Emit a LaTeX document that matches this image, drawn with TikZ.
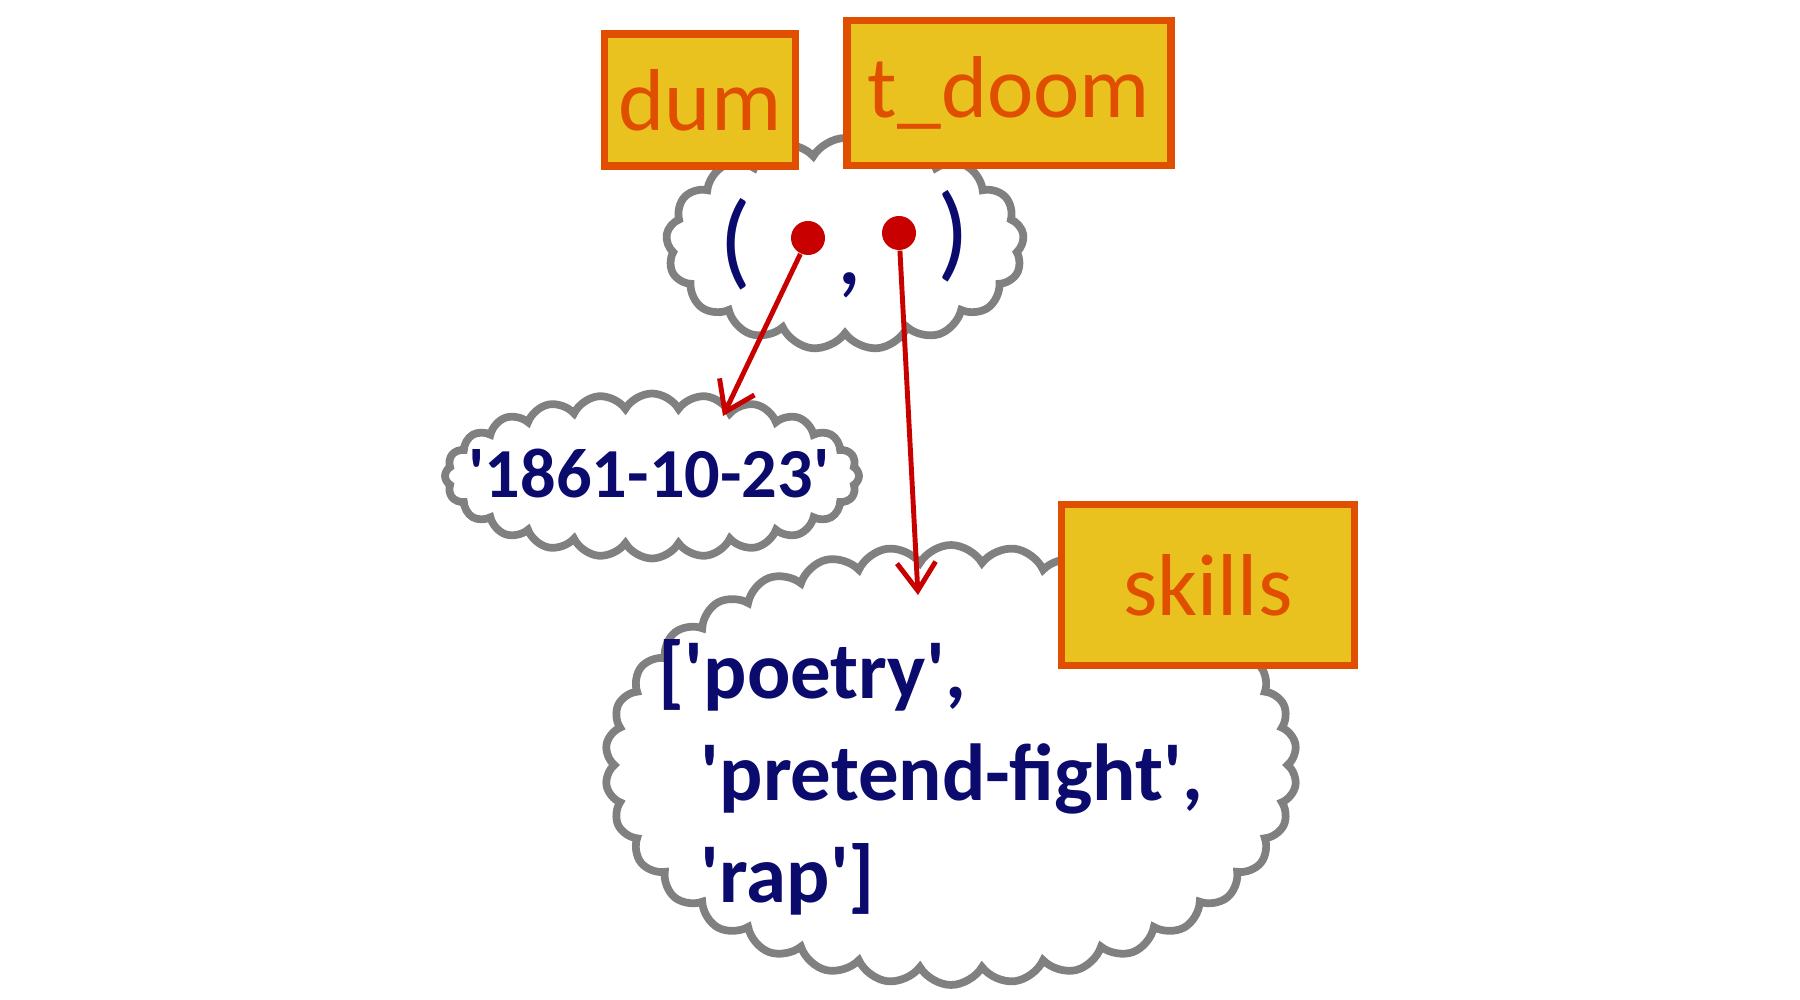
\documentclass[tikz,border=0pt]{standalone}
\usepackage{fontspec}
\newfontfamily\handfont{Carlito}
\usetikzlibrary{arrows.meta, shapes.symbols, positioning}

\definecolor{labelfill}{HTML}{E9C21F}
\definecolor{labeledge}{HTML}{E04E00}
\definecolor{inkblue}{HTML}{0B0B6E}
\definecolor{arrowred}{HTML}{C80000}
\definecolor{cloudgray}{HTML}{808080}

\begin{document}
\begin{tikzpicture}[
    x=1cm, y=-1cm,
    >={Straight Barb[length=8pt, width=11pt]},
    bubble/.style={cloud, cloud puffs=#1, cloud puff arc=120, cloud ignores aspect,
                   draw=cloudgray, line width=2.2pt, fill=white, inner sep=0pt},
    bubble/.default=20,
    namebox/.style={draw=labeledge, fill=labelfill, line width=2pt, text=labeledge,
                    font=\fontsize{25}{28}\handfont, inner sep=0pt},
    ink/.style={text=inkblue, inner sep=0pt},
    pindot/.style={circle, fill=arrowred, minimum size=0.34cm, inner sep=0pt},
    pointer/.style={->, draw=arrowred, line width=1.4pt},
]
\useasboundingbox (0,0) rectangle (18,10);

% values
\node[bubble=17, minimum width=3.58cm, minimum height=2.12cm] (pair) at (8.45,2.44) {};
\node[bubble=24, minimum width=4.14cm, minimum height=1.65cm] (date) at (6.52,4.76) {};
\node[bubble=34, minimum width=6.92cm, minimum height=4.40cm] (skills) at (9.51,7.65) {};

% the pair
\node[ink, font=\fontsize{30}{30}\handfont] (lparen) at (7.35,2.44) {(};
\node[ink, font=\fontsize{30}{30}\handfont] (rparen) at (9.53,2.36) {)};
\node[ink, font=\fontsize{30}{30}\handfont, anchor=base] (comma) at (8.50,2.85) {,};
\node[pindot] (dumdot) at (8.08,2.38) {};
\node[pindot] (tdoomdot) at (8.99,2.33) {};

\node[ink, font=\fontsize{20}{24}\handfont\bfseries] (datetext) at (6.49,4.74) {'1861-10-23'};
\node[ink, font=\fontsize{23}{29}\handfont\bfseries, align=left, anchor=west] (skillstext)
    at (6.58,7.77) {['poetry',\\
                    \hspace{12pt}'pretend-fight',\\
                    \hspace{12pt}'rap']};

% names
\node[namebox, minimum width=1.91cm, minimum height=1.32cm] (dumlabel) at (7.00,1.00) {dum};
\node[namebox, minimum width=3.24cm, minimum height=1.45cm] (tdoomlabel) at (10.09,0.93) {t\_doom};
\node[namebox, minimum width=2.93cm, minimum height=1.61cm] (skillslabel) at (12.08,5.85) {skills};

\coordinate (dateend) at (7.23,4.16);
\coordinate (skillsend) at (9.18,5.95);
\draw[pointer] (dumdot) -- (dateend);
\draw[pointer] (tdoomdot) -- (skillsend);

\end{tikzpicture}
\end{document}
